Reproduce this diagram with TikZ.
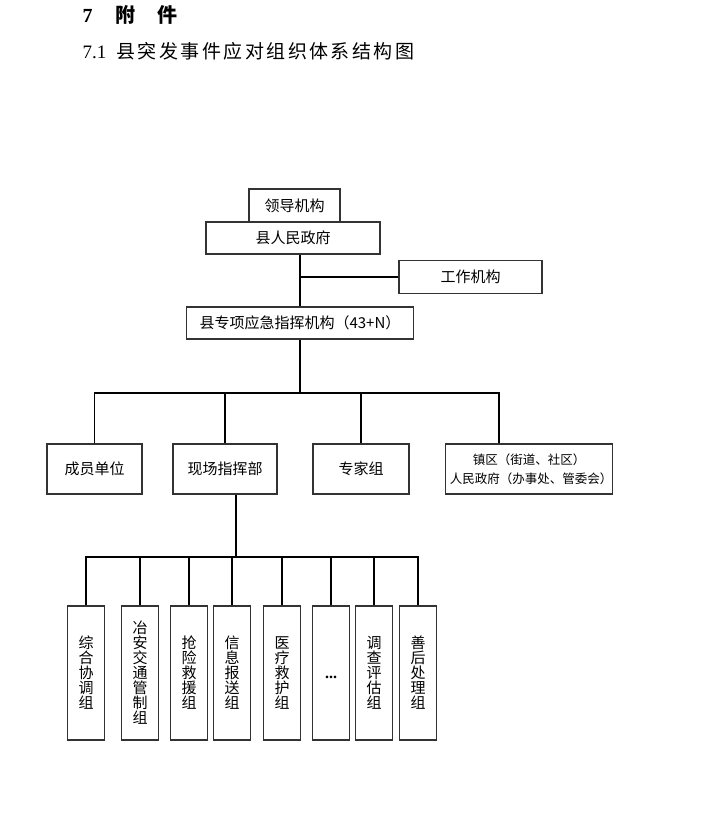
\documentclass[tikz,border=0pt]{standalone}
\usepackage{fontspec}
\setmainfont{Liberation Serif}
\newfontfamily\cjk{Noto Sans CJK SC}
\newfontfamily\cjkwide[LetterSpace=13]{Noto Sans CJK SC}
\begin{document}
\begin{tikzpicture}[x=1pt,y=-1pt,
box/.style={draw=black!80,line width=1.1pt,inner sep=0pt,align=center,font=\cjk\fontsize{15}{15}\selectfont},
grp/.style={box,minimum width=37pt,minimum height=134pt},
link/.style={line width=1.5pt}]
\useasboundingbox (0,0) rectangle (714,834);
\node[anchor=west,font=\fontsize{20}{20}\selectfont\bfseries](part) at (79,15){7\hspace{23pt}{\cjk\bfseries 附}\hspace{22pt}{\cjk\bfseries 件}};
\node[anchor=west,font=\fontsize{19}{19}\selectfont](title) at (79,51){7.1\hspace{10pt}{\cjkwide 县突发事件应对组织体系结构图}};
\node[box,minimum width=91pt,minimum height=33pt](lead) at (294.5,205.5){领导机构};
\node[box,minimum width=174pt,minimum height=32pt](gov) at (293,238){县人民政府};
\node[box,minimum width=143pt,minimum height=33pt](work) at (470.5,277){工作机构};
\node[box,minimum width=227pt,minimum height=32pt](spec) at (300,323){县专项应急指挥机构（43+N）};
\node[box,minimum width=95pt,minimum height=50pt](member) at (94.5,469){成员单位};
\node[box,minimum width=104pt,minimum height=50pt](site) at (225,469){现场指挥部};
\node[box,minimum width=96pt,minimum height=50pt](expert) at (361,469){专家组};
\node[box,minimum width=166pt,minimum height=50pt,font=\cjk\fontsize{12.5}{18.5}\selectfont](town) at (529,469){镇区（街道、社区）\\\hspace*{4pt}人民政府（办事处、管委会）};
\node[grp](g1) at (86,673){综\\合\\协\\调\\组};
\node[grp](g2) at (140,673){冶\\安\\交\\通\\管\\制\\组};
\node[grp](g3) at (189,673){抢\\险\\救\\援\\组};
\node[grp](g4) at (232,673){信\\息\\报\\送\\组};
\node[grp](g5) at (282,673){医\\疗\\救\\护\\组};
\node[grp,font=\fontsize{16}{16}\selectfont\bfseries](g6) at (331,673){\raisebox{-12pt}{...}};
\node[grp](g7) at (374,673){调\\查\\评\\估\\组};
\node[grp](g8) at (418,673){善\\后\\处\\理\\组};
\coordinate (hub) at (300,393);
\coordinate (bus) at (236,557);
\draw[link](spec.north)--(spec.north |- gov.south);
\draw[link](work.west)--(work.west -| spec.north);
\draw[link](spec.south)--(hub);
\draw[link](member.north)|-(hub)-|([xshift=-30pt]town.north);
\draw[link](site.north)--(site.north |- hub);
\draw[link](expert.north)--(expert.north |- hub);
\draw[link](site.south -| bus)--(bus);
\draw[link](g1.north)|-(bus)-|(g8.north);
\draw[link](g2.north)--(g2.north |- bus);
\draw[link](g3.north)--(g3.north |- bus);
\draw[link](g4.north)--(g4.north |- bus);
\draw[link](g5.north)--(g5.north |- bus);
\draw[link](g6.north)--(g6.north |- bus);
\draw[link](g7.north)--(g7.north |- bus);
\end{tikzpicture}
\end{document}
